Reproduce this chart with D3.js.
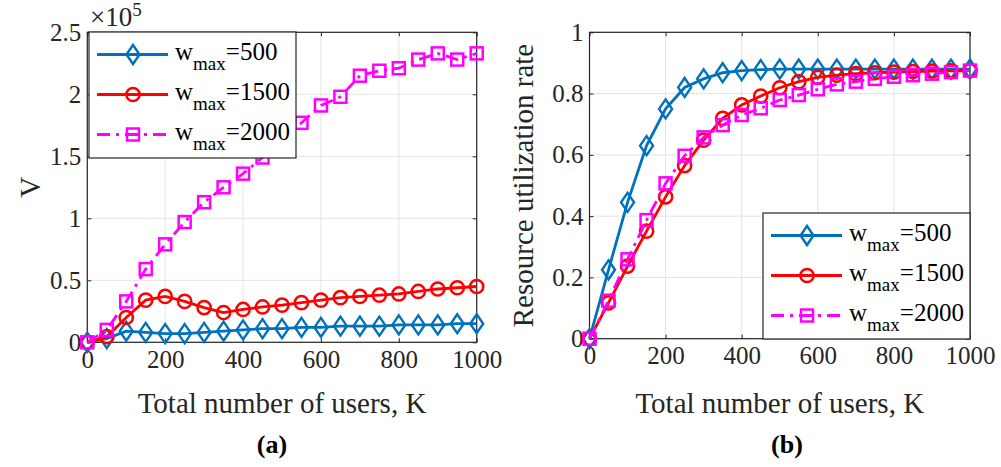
<!DOCTYPE html>
<html>
<head>
<meta charset="utf-8">
<script src="https://cdn.jsdelivr.net/npm/d3@7"></script>
<style>
  body { margin: 0; background: #fff; }
  svg text { font-family: "Liberation Serif", "Times New Roman", serif !important; }
</style>
</head>
<body>
<svg id="chart" width="1001" height="467"></svg>
<script>
// users K, shared by both panels
var users = d3.range(0, 1001, 50);

// panel (a): V, in units of 1e5
var vW500  = [0, 0.03, 0.09, 0.08, 0.07, 0.07, 0.08, 0.09, 0.10, 0.11, 0.11, 0.12, 0.12, 0.13, 0.13, 0.13, 0.14, 0.14, 0.14, 0.15, 0.15];
var vW1500 = [0, 0.045, 0.20, 0.34, 0.37, 0.33, 0.28, 0.24, 0.265, 0.285, 0.30, 0.32, 0.34, 0.36, 0.37, 0.38, 0.39, 0.41, 0.43, 0.44, 0.45];
var vW2000 = [0, 0.10, 0.33, 0.59, 0.79, 0.97, 1.13, 1.25, 1.36, 1.49, 1.63, 1.77, 1.91, 1.98, 2.15, 2.19, 2.21, 2.28, 2.33, 2.28, 2.33];

// panel (b): resource utilization rate
var rW500  = [0, 0.225, 0.445, 0.63, 0.75, 0.82, 0.848, 0.868, 0.875, 0.878, 0.88, 0.88, 0.88, 0.88, 0.88, 0.88, 0.88, 0.88, 0.88, 0.88, 0.88];
var rW1500 = [0, 0.117, 0.237, 0.351, 0.463, 0.565, 0.648, 0.719, 0.763, 0.792, 0.819, 0.839, 0.853, 0.86, 0.865, 0.868, 0.87, 0.872, 0.873, 0.874, 0.875];
var rW2000 = [0, 0.124, 0.259, 0.387, 0.507, 0.597, 0.657, 0.697, 0.73, 0.752, 0.779, 0.795, 0.814, 0.83, 0.839, 0.848, 0.855, 0.86, 0.865, 0.87, 0.875];

var legendLabels = ["500", "1500", "2000"];
var xTicks = [0, 200, 400, 600, 800, 1000];
var vTicks = [0, 0.5, 1, 1.5, 2, 2.5];
var rTicks = [0, 0.2, 0.4, 0.6, 0.8, 1];

var styles = [
  {color: "#0072BD", marker: "diamond", dash: null},
  {color: "#FF0000", marker: "circle", dash: null},
  {color: "#FF00FF", marker: "square", dash: "13,6,3,6"}
];

var svg = d3.select("#chart");

function drawMarker(g, type, x, y, color) {
  if (type == "diamond") {
    g.append("path").attr("d", "M" + x + "," + (y - 9.5) + "L" + (x + 6.5) + "," + y + "L" + x + "," + (y + 9.5) + "L" + (x - 6.5) + "," + y + "Z")
      .attr("fill", "none").attr("stroke", color).attr("stroke-width", 2.4);
  } else if (type == "circle") {
    g.append("circle").attr("cx", x).attr("cy", y).attr("r", 6.6)
      .attr("fill", "none").attr("stroke", color).attr("stroke-width", 2.5);
  } else {
    g.append("rect").attr("x", x - 6).attr("y", y - 6).attr("width", 12).attr("height", 12)
      .attr("fill", "none").attr("stroke", color).attr("stroke-width", 2.5);
  }
}

function drawPanel(p) {
  var x = d3.scaleLinear().domain([0, 1000]).range([p.left, p.right]);
  var y = d3.scaleLinear().domain(p.yDomain).range([p.bottom, p.top]);
  var g = svg.append("g");

  // grid
  g.selectAll(".gx").data(xTicks).enter().append("line")
    .attr("x1", d => x(d)).attr("x2", d => x(d)).attr("y1", p.top).attr("y2", p.bottom)
    .attr("stroke", "#e3e3e3").attr("stroke-width", 1);
  g.selectAll(".gy").data(p.yTicks).enter().append("line")
    .attr("x1", p.left).attr("x2", p.right).attr("y1", d => y(d)).attr("y2", d => y(d))
    .attr("stroke", "#e3e3e3").attr("stroke-width", 1);

  // axes, ticks pointing in
  var ax = g.append("g").attr("transform", "translate(0," + p.bottom + ")")
    .call(d3.axisBottom(x).tickValues(xTicks).tickSizeInner(-4).tickSizeOuter(0).tickPadding(12).tickFormat(d3.format("d")));
  g.append("g").attr("transform", "translate(" + p.left + ",0)")
    .call(d3.axisLeft(y).tickValues(p.yTicks).tickSizeInner(-4).tickSizeOuter(0).tickPadding(6).tickFormat(d3.format("")));
  g.append("g").attr("transform", "translate(0," + p.top + ")")
    .call(d3.axisTop(x).tickValues(xTicks).tickSizeInner(-4).tickSizeOuter(0).tickFormat(""));
  g.append("g").attr("transform", "translate(" + p.right + ",0)")
    .call(d3.axisRight(y).tickValues(p.yTicks).tickSizeInner(-4).tickSizeOuter(0).tickFormat(""));
  g.selectAll(".domain").remove();
  g.selectAll(".tick line").attr("stroke", "#262626");
  g.selectAll(".tick text").attr("font-size", 25).attr("fill", "#262626");
  ax.selectAll(".tick text").attr("dy", "0.55em");

  g.append("rect").attr("x", p.left).attr("y", p.top)
    .attr("width", p.right - p.left).attr("height", p.bottom - p.top)
    .attr("fill", "none").attr("stroke", "#262626").attr("stroke-width", 1.2);

  // series
  p.series.forEach(function(vals, i) {
    var s = styles[i];
    var pts = users.map((u, j) => [u, vals[j]]);
    var line = d3.line().x(d => x(d[0])).y(d => y(d[1]));
    g.append("path").attr("d", line(pts)).attr("fill", "none")
      .attr("stroke", s.color).attr("stroke-width", 2.8)
      .attr("stroke-dasharray", s.dash);
    pts.forEach(d => drawMarker(g, s.marker, x(d[0]), y(d[1]), s.color));
  });

  // legend
  var lg = g.append("g");
  lg.append("rect").attr("x", p.legX).attr("y", p.legY).attr("width", 207).attr("height", 126)
    .attr("fill", "#fff").attr("stroke", "#262626").attr("stroke-width", 1.2);
  legendLabels.forEach(function(lab, i) {
    var s = styles[i];
    var ry = p.legY + 22.5 + i * 40;
    lg.append("line").attr("x1", p.legX + 8).attr("x2", p.legX + 79).attr("y1", ry).attr("y2", ry)
      .attr("stroke", s.color).attr("stroke-width", 2.8).attr("stroke-dasharray", s.dash);
    drawMarker(lg, s.marker, p.legX + 44, ry, s.color);
    var t = lg.append("text").attr("x", p.legX + 86).attr("y", ry + 5)
      .attr("font-size", 25).attr("fill", "#000");
    t.append("tspan").text("w");
    t.append("tspan").attr("dy", 10).attr("font-size", 19).text("max");
    t.append("tspan").attr("dy", -10).text("=" + lab);
  });

  // labels
  g.append("text").attr("x", (p.left + p.right) / 2).attr("y", 413)
    .attr("text-anchor", "middle").attr("font-size", 29).attr("fill", "#262626")
    .text("Total number of users, K");
  g.append("text").attr("transform", "translate(" + p.yLabelX + "," + ((p.top + p.bottom) / 2) + ") rotate(-90)")
    .attr("text-anchor", "middle").attr("font-size", 29).attr("fill", "#262626")
    .text(p.yLabel);
  g.append("text").attr("x", p.capX).attr("y", 453)
    .attr("text-anchor", "middle").attr("font-size", 26).attr("font-weight", "bold")
    .text(p.caption);
  return g;
}

var ga = drawPanel({
  left: 87.3, right: 476.7, top: 32.3, bottom: 342.3,
  yDomain: [0, 2.5], yTicks: vTicks,
  series: [vW500, vW1500, vW2000],
  legX: 89, legY: 32, yLabelX: 40, yLabel: "V",
  capX: 272, caption: "(a)"
});
// exponent label
var ex = ga.append("text").attr("x", 90).attr("y", 26).attr("font-size", 27).attr("fill", "#262626");
ex.append("tspan").text("\u00d710");
ex.append("tspan").attr("dy", -10).attr("font-size", 19).text("5");

drawPanel({
  left: 589.5, right: 970, top: 32.3, bottom: 338.7,
  yDomain: [0, 1], yTicks: rTicks,
  series: [rW500, rW1500, rW2000],
  legX: 763, legY: 213, yLabelX: 533, yLabel: "Resource utilization rate",
  capX: 787, caption: "(b)"
});
</script>
</body>
</html>
